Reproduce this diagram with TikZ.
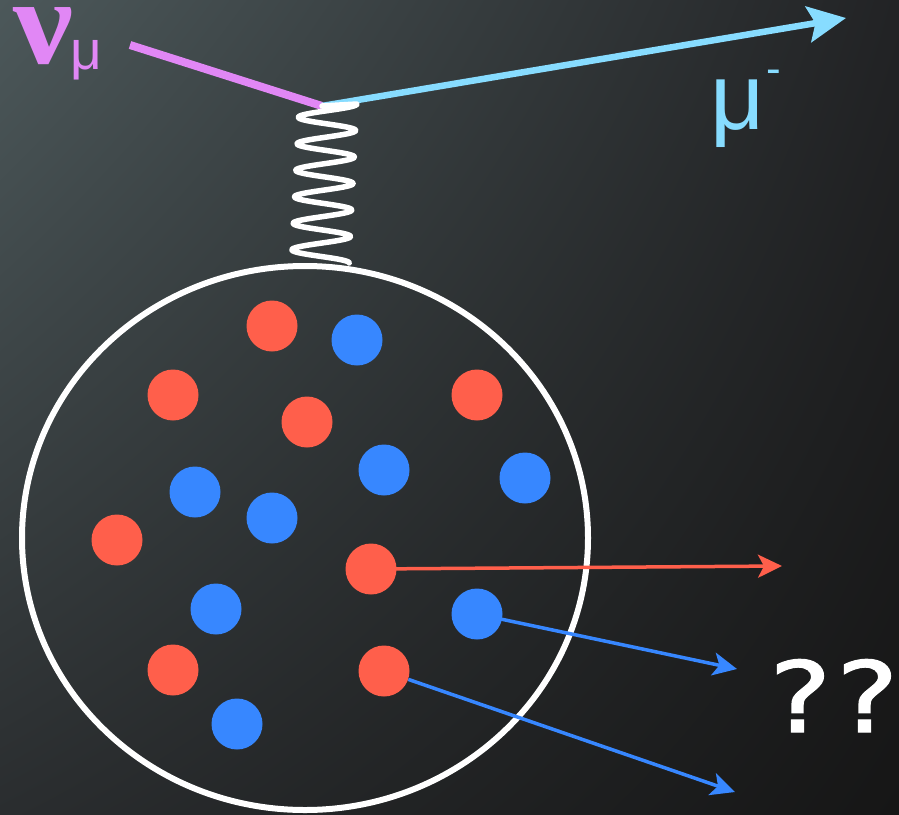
\documentclass[tikz,border=0pt]{standalone}
\usepackage{fontspec}
\setmainfont{Liberation Serif}
\newfontfamily\sansf{Liberation Sans}
\newfontfamily\qfont[FakeBold=1.2]{DejaVu Sans}
\usetikzlibrary{arrows.meta,shadings}
\definecolor{nucol}{RGB}{225,135,245}
\definecolor{mucol}{RGB}{135,220,255}
\definecolor{redp}{RGB}{255,95,75}
\definecolor{bluep}{RGB}{55,135,255}
\definecolor{bgtl}{RGB}{76,88,90}
\definecolor{bgtr}{RGB}{34,35,37}
\definecolor{bgbl}{RGB}{42,45,47}
\definecolor{bgbr}{RGB}{22,22,22}
\tikzset{
  proton/.style={circle,fill=redp,minimum size=51pt,inner sep=0pt},
  neutron/.style={circle,fill=bluep,minimum size=51pt,inner sep=0pt},
  nuline/.style={draw=nucol,line width=8pt},
  muline/.style={draw=mucol,line width=6.5pt,-{Stealth[length=38pt,width=36pt,inset=7pt]}},
  redarrow/.style={draw=redp,line width=3.5pt,-{Stealth[length=24pt,width=23pt,inset=6pt]}},
  bluearrow/.style={draw=bluep,line width=3.5pt,-{Stealth[length=24pt,width=23pt,inset=6pt]}},
  coilline/.style={draw=white,line width=5.5pt,line cap=round,line join=round},
  nucleus/.style={draw=white,line width=6pt},
  lab/.style={anchor=base west,inner sep=0pt}
}
\begin{document}
\begin{tikzpicture}[x=1pt,y=-1pt]
\useasboundingbox (0,0) rectangle (899,814);
\shade[upper left=bgtl,upper right=bgtr,lower left=bgbl,lower right=bgbr] (0,0) rectangle (899,814);
% labels
\node[lab,text=nucol] (nulab) at (13,63) {\scalebox{1.4}[1.27]{\fontsize{96}{96}\selectfont\bfseries ν}};
\node[lab,text=nucol] (nusub) at (70,69) {\sansf\fontsize{55}{55}\selectfont μ};
\node[lab,text=mucol] (mulab) at (710,129) {\sansf\fontsize{94}{94}\selectfont μ};
\node[lab,text=mucol] (muminus) at (766,83) {\sansf\fontsize{44}{44}\selectfont -};
\node[lab,text=white] (q1) at (769,732) {\scalebox{1.2}[1]{\qfont\fontsize{98}{98}\selectfont ?}};
\node[lab,text=white] (q2) at (836,732) {\scalebox{1.2}[1]{\qfont\fontsize{98}{98}\selectfont ?}};
% vertex and lepton lines
\coordinate (v) at (322,106);
\coordinate (nustart) at (130,45);
\coordinate (mutip) at (846,18);
\draw[nuline] (nustart) -- (v);
\draw[muline] (v) -- (mutip);
% exchanged boson
\coordinate (ctop) at (357,104);
\draw[coilline] (v) -- (ctop) -- plot[domain=0:6,samples=240,smooth] ({328 - 1.3*\x + 29*cos(360*\x)},{104 + 26.5*\x});
% nucleus
\draw[nucleus] (305,538) ellipse [x radius=283, y radius=272];
% nucleons
\node[proton] (r1) at (272,326) {};
\node[proton] (r2) at (173,395) {};
\node[proton] (r3) at (307,422) {};
\node[proton] (r4) at (477,395) {};
\node[proton] (r5) at (117,540) {};
\node[proton] (r6) at (371,569) {};
\node[proton] (r7) at (173,670) {};
\node[proton] (r8) at (384,671) {};
\node[neutron] (b1) at (357,340) {};
\node[neutron] (b2) at (384,470) {};
\node[neutron] (b3) at (525,478) {};
\node[neutron] (b4) at (195,492) {};
\node[neutron] (b5) at (272,518) {};
\node[neutron] (b6) at (216,609) {};
\node[neutron] (b7) at (477,614) {};
\node[neutron] (b8) at (237,724) {};
% outgoing particles
\coordinate (t1) at (782,566);
\coordinate (t2) at (737,669);
\coordinate (t3) at (735,792);
\draw[redarrow] (r6.center) -- (t1);
\draw[bluearrow] (b7.center) -- (t2);
\draw[bluearrow] (r8) -- (t3);
\end{tikzpicture}
\end{document}
